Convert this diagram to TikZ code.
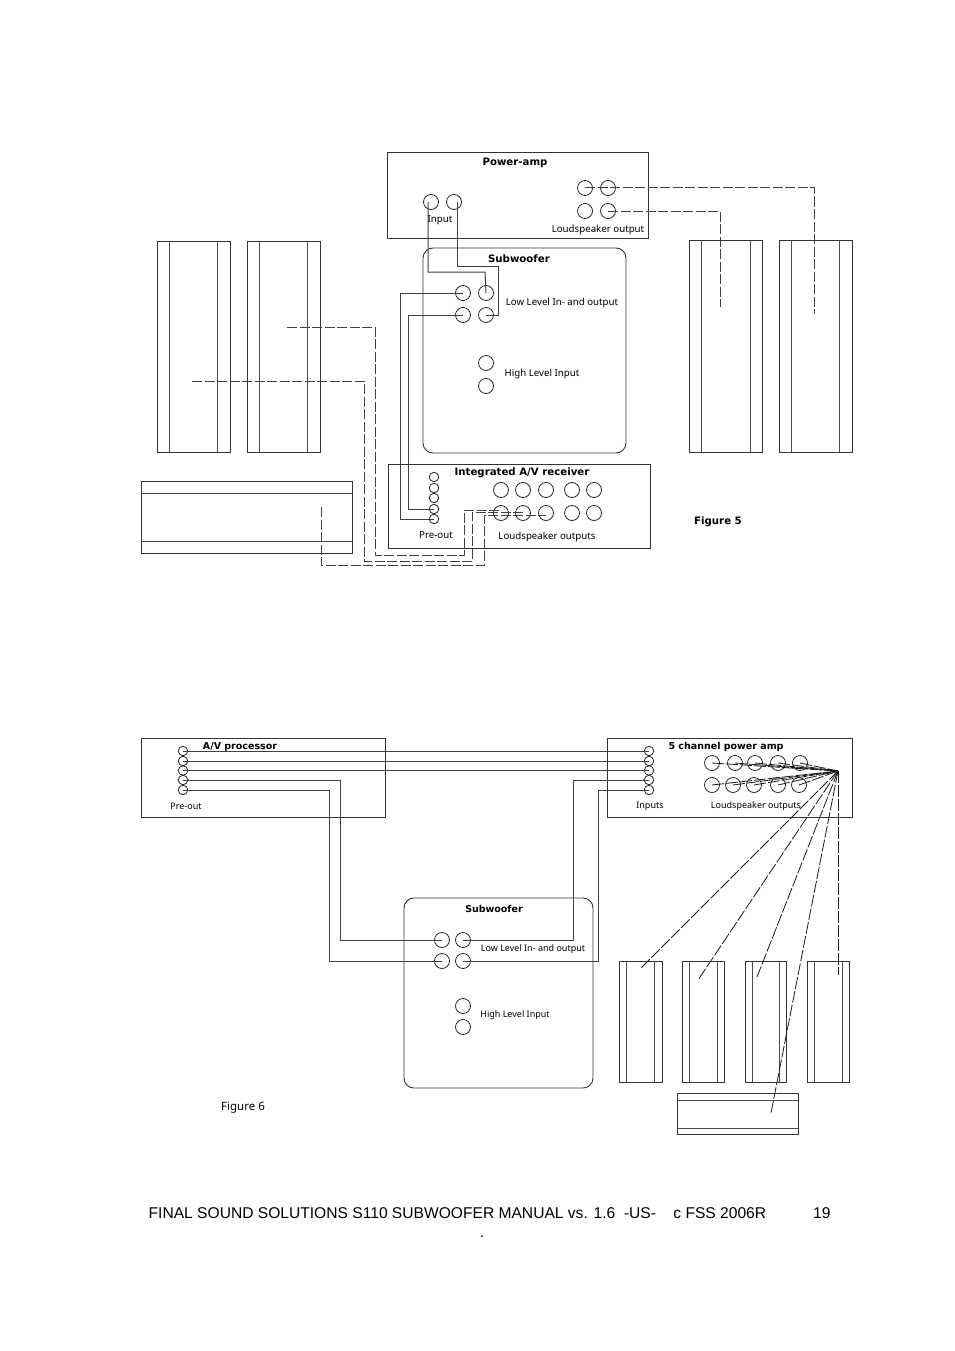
\documentclass[tikz,border=0pt]{standalone}
\usepackage{fontspec}
\setmainfont{Noto Sans}
\newfontfamily\footfont{Liberation Sans}
\newfontfamily\headfont{DejaVu Sans}
\newcommand{\bx}[6][boxline]{\pgfmathsetmacro{\cxx}{(#3+#5)/2}\pgfmathsetmacro{\cyy}{(#4+#6)/2}\pgfmathsetmacro{\wxx}{#5-#3}\pgfmathsetmacro{\hyy}{#6-#4}\node[#1,minimum width=\wxx pt,minimum height=\hyy pt] (#2) at (\cxx,\cyy) {};}
\tikzset{
 boxline/.style={draw=black!80,line width=1pt,inner sep=0pt,outer sep=0pt,rectangle},
 subbox/.style={boxline,rounded corners=10pt,line width=0.9pt},
 bigsock/.style={circle,draw=black!85,line width=0.8pt,inner sep=0pt,minimum size=15pt},
 smallsock/.style={circle,draw=black!85,line width=0.8pt,inner sep=0pt,minimum size=9.5pt},
 lab/.style={inner sep=0pt,yshift=-1.5pt,font=\fontsize{9.7}{12}\selectfont},
 labs/.style={inner sep=0pt,yshift=-1.5pt,font=\fontsize{9}{11}\selectfont},
 head/.style={inner sep=0pt,yshift=-0.8pt,font=\headfont\fontsize{10.2}{12}\selectfont\bfseries},
 heads/.style={inner sep=0pt,yshift=-0.8pt,font=\headfont\fontsize{9.5}{11}\selectfont\bfseries},
 wire/.style={draw=black!75,line width=1pt},
 dwire/.style={draw=black!75,line width=1pt,dash pattern=on 10pt off 2.5pt},
 fan/.style={draw=black!90,line width=0.8pt,dash pattern=on 12pt off 2pt},
 inner/.style={draw=black!70,line width=1pt},
 x=1pt,y=-1pt}
\begin{document}
\begin{tikzpicture}
\path[use as bounding box,fill=white] (0,0) rectangle (954,1351);
% ---------- Figure 5 ----------
\bx{pamp}{387}{153}{648}{238}
\bx[subbox]{sub5}{423}{248}{626}{453}
\bx{recv}{388}{464}{650}{548}
\bx{spA}{157}{241}{230}{452}
\bx{spB}{247}{241}{320}{452}
\bx{spC}{689}{240}{762}{452}
\bx{spD}{779}{240}{852}{452}
\bx{ctr5}{141}{481}{352}{553}
\draw[inner] (169,241)--(169,452) (217,241)--(217,452) (259,241)--(259,452) (307,241)--(307,452);
\draw[inner] (701,240)--(701,452) (750,240)--(750,452) (791,240)--(791,452) (839,240)--(839,452);
\draw[inner] (141,493)--(352,493) (141,541)--(352,541);
\foreach \n/\x/\y in {pi1/431/202,pi2/454/202,po1/585/188,po2/608/188,po3/585/211,po4/608/211,
  s1/463/293,s2/486/293,s3/463/315,s4/486/315,h1/486/363,h2/486/386,
  r1/501/490,r2/523/490,r3/546/490,r4/572/490,r5/594/490,
  r6/501/513,r7/523/513,r8/546/513,r9/572/513,r10/594/513}
  \node[bigsock] (\n) at (\x,\y) {};
\foreach \n/\y in {p1/477,p2/488,p3/498,p4/509,p5/519}
  \node[smallsock] (\n) at (434,\y) {};
\coordinate (ea) at (287,327);
\coordinate (eb) at (192,381);
\coordinate (ec) at (321,507);
\coordinate (ed) at (720,307);
\coordinate (ee) at (814,314);
\draw[wire] (428,202) |- (485,272) -- (s2.center);
\draw[wire] (457,202) |- (498,266) |- (s4.center);
\draw[wire] (s1.center) -| (400,293) |- (p5.center);
\draw[wire] (s3.center) -| (408,315) |- (p4.center);
\draw[dwire] (po1.center) -| (ee);
\draw[dwire] (po4.center) -| (ed);
\draw[dwire] (ea) -| (375,555) -| (464,510) -- (r6.center |- 0,510);
\draw[dwire] (eb) -| (364,561) -| (472,512) -- (523,512);
\draw[dwire] (ec) |- (484,565) |- (r8.center |- 0,515);
\node[head] (t1) at (515,162) {Power-amp};
\node[lab] (t2) at (440,219) {Input};
\node[lab] (t3) at (598,228) {Loudspeaker output};
\node[head] (t4) at (519,258) {Subwoofer};
\node[lab] (t5) at (562,301) {Low Level In- and output};
\node[lab] (t6) at (542,372) {High Level Input};
\node[head] (t7) at (522,472) {Integrated A/V receiver};
\node[lab] (t8) at (436,534) {Pre-out};
\node[lab] (t9) at (547,535) {Loudspeaker outputs};
\node[head] (t10) at (718,521) {Figure 5};
% ---------- Figure 6 ----------
\bx{avp}{141}{738}{385}{817}
\bx{amp5}{607}{738}{852}{817}
\bx[subbox]{sub6}{404}{898}{593}{1088}
\bx{q1}{619}{961}{662}{1082}
\bx{q2}{682}{961}{724}{1082}
\bx{q3}{745}{961}{786}{1082}
\bx{q4}{807}{961}{849}{1082}
\bx{ctr6}{677}{1093}{798}{1134}
\draw[inner] (626,961)--(626,1082) (654,961)--(654,1082) (689,961)--(689,1082) (717,961)--(717,1082) (752,961)--(752,1082) (779,961)--(779,1082) (814,961)--(814,1082) (842,961)--(842,1082);
\draw[inner] (677,1100)--(798,1100) (677,1128)--(798,1128);
\foreach \n/\y in {1/751,2/761,3/770.5,4/780,5/790}{
  \node[smallsock] (a\n) at (183,\y) {};
  \node[smallsock] (b\n) at (649,\y) {};}
\foreach \n/\x/\y in {o1/712/763,o2/735/763,o3/755/763,o4/778/763,o5/800/763,
  o6/712/785,o7/733/785,o8/754/785,o9/778/785,o10/799/785,
  u1/442/940,u2/463/940,u3/442/961,u4/463/961,v1/463/1006,v2/463/1027}
  \node[bigsock] (\n) at (\x,\y) {};
\draw[wire] (a1.center) -- (b1.center);
\draw[wire] (a2.center) -- (b2.center);
\draw[wire] (a3.center) -- (b3.center);
\draw[wire] (a4.center) -| (340,940) -- (u1.center);
\draw[wire] (a5.center) -| (329,961) -- (u3.center);
\draw[wire] (b4.center) -| (573,940) -- (u2.center);
\draw[wire] (b5.center) -| (598,961) -- (u4.center);
\coordinate (fp) at (838,771);
\foreach \n in {o1,o2,o3,o4,o5,o6,o7,o8,o9,o10}
  \draw[fan] (\n.center) -- (fp);
\coordinate (f1) at (641,968);
\coordinate (f2) at (698,980);
\coordinate (f3) at (757,977);
\coordinate (f4) at (771,1113);
\coordinate (f5) at (838,975);
\foreach \n in {f1,f2,f3,f4,f5}
  \draw[fan] (fp) -- (\n);
\node[heads] (t11) at (240,746) {A/V processor};
\node[labs] (t12) at (186,805) {Pre-out};
\node[heads] (t13) at (726,746) {5 channel power amp};
\node[labs] (t14) at (650,805) {Inputs};
\node[labs] (t15) at (756,805) {Loudspeaker outputs};
\node[heads] (t16) at (494,908) {Subwoofer};
\node[labs] (t17) at (533,948) {Low Level In- and output};
\node[labs] (t18) at (515,1014) {High Level Input};
\node[lab,font=\fontsize{11.5}{13}\selectfont] (t19) at (243,1106) {Figure 6};
% ---------- footer ----------
\node[anchor=base west,inner sep=0pt,font=\footfont\fontsize{15.6}{18}\selectfont] (f1t) at (148.5,1218) {FINAL SOUND SOLUTIONS S110 SUBWOOFER MANUAL vs. 1.6\ \ -US-\ \ \ \ c FSS 2006R};
\node[anchor=base west,inner sep=0pt,font=\footfont\fontsize{15.6}{18}\selectfont] (f2t) at (813,1218) {19};
\node[anchor=base,inner sep=0pt,font=\footfont\fontsize{15.6}{18}\selectfont] (f3t) at (482,1237) {.};
\end{tikzpicture}
\end{document}
